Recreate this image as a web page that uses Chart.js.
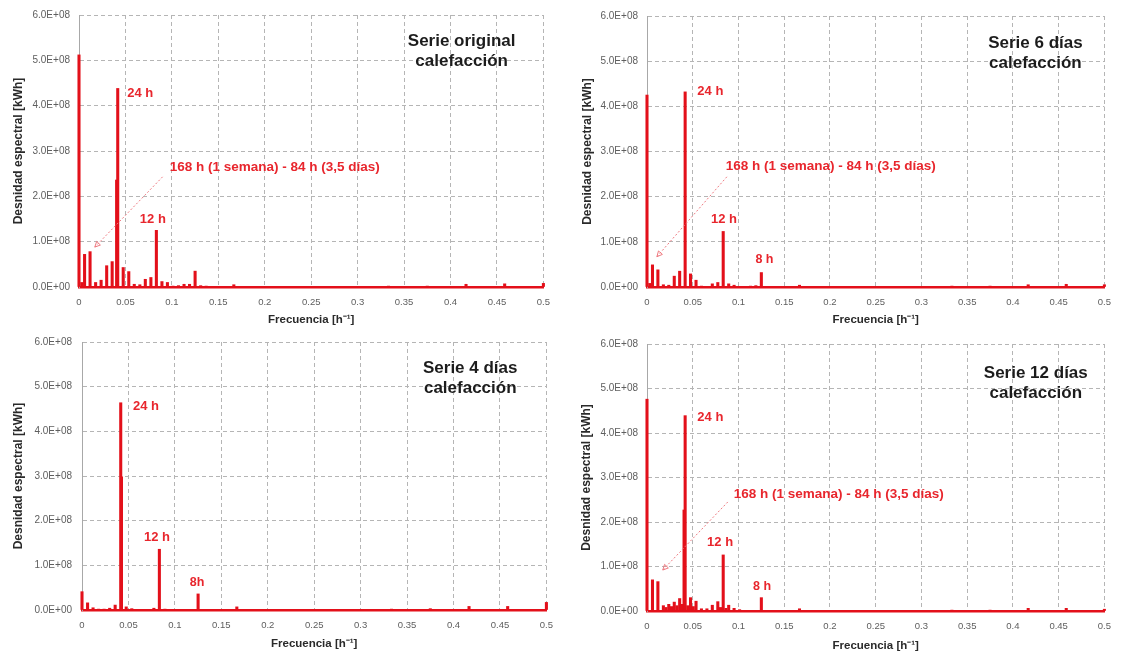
<!DOCTYPE html>
<html><head><meta charset="utf-8">
<script src="https://cdn.jsdelivr.net/npm/chart.js@4.4.1/dist/chart.umd.min.js"></script>
<style>
html,body{margin:0;padding:0;background:#fff;}
#wrap{position:relative;width:1121px;height:654px;overflow:hidden;background:#fff;}
canvas{position:absolute;}
</style></head><body>
<div id="wrap">
<canvas id="c1" width="560" height="327" style="left:0px;top:0px"></canvas>
<canvas id="c2" width="553" height="327" style="left:568px;top:0px"></canvas>
<canvas id="c3" width="560" height="325" style="left:3px;top:326px"></canvas>
<canvas id="c4" width="553" height="325" style="left:568px;top:328px"></canvas>
</div>
<script>
// ---------- data (frequency in 1/h, spectral density in kWh) ----------
const xTickLabels = ['0','0.05','0.1','0.15','0.2','0.25','0.3','0.35','0.4','0.45','0.5'];
const yTickLabels = ['0.0E+00','1.0E+08','2.0E+08','3.0E+08','4.0E+08','5.0E+08','6.0E+08'];
const xAxisTitle = 'Frecuencia [h⁻¹]';
const yAxisTitle = 'Desnidad espectral [kWh]';

// Serie original
const freqOriginal = [0, 0.003, 0.006, 0.0119, 0.0179, 0.0238, 0.0298, 0.0357, 0.0405, 0.0417, 0.0476, 0.0536, 0.0595, 0.0655, 0.0714, 0.0774, 0.0833, 0.0893, 0.0952, 0.1012, 0.1071, 0.1131, 0.119, 0.125, 0.131, 0.1369, 0.1667, 0.3333, 0.375, 0.4167, 0.4583, 0.5];
const densOriginal = [5.12e8, 0.10e8, 0.72e8, 0.78e8, 0.10e8, 0.15e8, 0.47e8, 0.56e8, 2.36e8, 4.38e8, 0.43e8, 0.34e8, 0.06e8, 0.05e8, 0.17e8, 0.21e8, 1.25e8, 0.12e8, 0.10e8, 0.02e8, 0.03e8, 0.06e8, 0.06e8, 0.35e8, 0.03e8, 0.02e8, 0.05e8, 0.02e8, 0.02e8, 0.06e8, 0.07e8, 0.08e8];

// Serie 6 dias
const freq6 = [0, 0.003, 0.006, 0.0119, 0.0179, 0.0238, 0.0298, 0.0357, 0.0417, 0.0476, 0.0536, 0.0595, 0.0714, 0.0774, 0.0833, 0.0893, 0.0952, 0.1131, 0.119, 0.125, 0.1667, 0.3333, 0.375, 0.4167, 0.4583, 0.5];
const dens6 = [4.25e8, 0.08e8, 0.49e8, 0.38e8, 0.05e8, 0.04e8, 0.24e8, 0.35e8, 4.32e8, 0.29e8, 0.15e8, 0.02e8, 0.07e8, 0.10e8, 1.23e8, 0.07e8, 0.04e8, 0.02e8, 0.03e8, 0.32e8, 0.04e8, 0.02e8, 0.02e8, 0.05e8, 0.06e8, 0.05e8];

// Serie 4 dias
const freq4 = [0, 0.006, 0.0119, 0.0179, 0.0238, 0.0298, 0.0357, 0.0417, 0.0425, 0.0476, 0.0536, 0.0774, 0.0833, 0.0893, 0.125, 0.1667, 0.3333, 0.375, 0.4167, 0.4583, 0.5];
const dens4 = [0.41e8, 0.16e8, 0.05e8, 0.02e8, 0.02e8, 0.04e8, 0.11e8, 4.64e8, 2.98e8, 0.07e8, 0.03e8, 0.04e8, 1.36e8, 0.02e8, 0.36e8, 0.07e8, 0.02e8, 0.03e8, 0.08e8, 0.08e8, 0.17e8];

// Serie 12 dias
const freq12 = [0, 0.006, 0.0119, 0.0179, 0.0208, 0.0238, 0.0268, 0.0298, 0.0327, 0.0357, 0.0387, 0.0405, 0.0417, 0.0446, 0.0476, 0.0506, 0.0536, 0.0595, 0.0655, 0.0714, 0.0774, 0.0804, 0.0833, 0.0863, 0.0893, 0.0952, 0.1012, 0.125, 0.1667, 0.3333, 0.375, 0.4167, 0.4583, 0.5];
const dens12 = [4.76e8, 0.70e8, 0.66e8, 0.12e8, 0.08e8, 0.15e8, 0.10e8, 0.20e8, 0.12e8, 0.28e8, 0.15e8, 2.27e8, 4.39e8, 0.12e8, 0.30e8, 0.10e8, 0.22e8, 0.05e8, 0.05e8, 0.13e8, 0.21e8, 0.08e8, 1.26e8, 0.06e8, 0.13e8, 0.06e8, 0.03e8, 0.30e8, 0.05e8, 0.02e8, 0.02e8, 0.06e8, 0.06e8, 0.04e8];

// ---------- annotations (placed in data coordinates) ----------
const weekText = '168 h (1 semana) - 84 h (3,5 días)';
const notesOriginal = {
  titles: ['Serie original', 'calefacción'], titleX: 0.412, titleY: [5.41e8, 4.97e8],
  texts: [{t:'24 h', x:0.052, y:4.26e8, s:13}, {t:'12 h', x:0.0655, y:1.50e8, s:13}, {t:weekText, x:0.0976, y:2.65e8, s:13.5}],
  arrow: {x1:0.090, y1:2.43e8, x2:0.017, y2:0.88e8}
};
const notes6 = {
  titles: ['Serie 6 días', 'calefacción'], titleX: 0.4246, titleY: [5.40e8, 4.96e8],
  texts: [{t:'24 h', x:0.055, y:4.34e8, s:13}, {t:'12 h', x:0.070, y:1.49e8, s:13}, {t:'8 h', x:0.1185, y:0.60e8, s:12.5}, {t:weekText, x:0.086, y:2.68e8, s:13.5}],
  arrow: {x1:0.0873, y1:2.44e8, x2:0.0108, y2:0.67e8}
};
const notes4 = {
  titles: ['Serie 4 días', 'calefacción'], titleX: 0.418, titleY: [5.40e8, 4.96e8],
  texts: [{t:'24 h', x:0.0548, y:4.55e8, s:13}, {t:'12 h', x:0.0667, y:1.63e8, s:13}, {t:'8h', x:0.116, y:0.62e8, s:12.5}],
  arrow: null
};
const notes12 = {
  titles: ['Serie 12 días', 'calefacción'], titleX: 0.425, titleY: [5.35e8, 4.90e8],
  texts: [{t:'24 h', x:0.055, y:4.36e8, s:13}, {t:'12 h', x:0.0657, y:1.53e8, s:13}, {t:'8 h', x:0.116, y:0.54e8, s:12.5}, {t:weekText, x:0.0947, y:2.63e8, s:13.5}],
  arrow: {x1:0.0883, y1:2.45e8, x2:0.0172, y2:0.92e8}
};

// ---------- drawing ----------
const FONT = '"Liberation Sans", Arial, sans-serif';
const RED = '#e3101a';
const TEXTRED = '#e8262d';
Chart.defaults.font.family = FONT;

const notesPlugin = {
  id: 'panelNotes',
  afterDatasetsDraw(chart) {
    const n = chart.config._config.notes;
    if (!n) return;
    const ctx = chart.ctx, xs = chart.scales.x, ys = chart.scales.y;
    ctx.save();
    ctx.fillStyle = '#1c1c1c';
    ctx.font = 'bold 17px ' + FONT;
    ctx.textAlign = 'center'; ctx.textBaseline = 'middle';
    n.titles.forEach((t, i) => ctx.fillText(t, xs.getPixelForValue(n.titleX), ys.getPixelForValue(n.titleY[i])));
    ctx.fillStyle = TEXTRED; ctx.textAlign = 'left';
    n.texts.forEach(o => {
      ctx.font = 'bold ' + o.s + 'px ' + FONT;
      ctx.fillText(o.t, xs.getPixelForValue(o.x), ys.getPixelForValue(o.y));
    });
    if (n.arrow) {
      const a = n.arrow;
      const x1 = xs.getPixelForValue(a.x1), y1 = ys.getPixelForValue(a.y1);
      const x2 = xs.getPixelForValue(a.x2), y2 = ys.getPixelForValue(a.y2);
      ctx.strokeStyle = '#ee7a80'; ctx.lineWidth = 1;
      ctx.setLineDash([2, 2]);
      ctx.beginPath(); ctx.moveTo(x1, y1); ctx.lineTo(x2, y2); ctx.stroke();
      ctx.setLineDash([]);
      const ang = Math.atan2(y2 - y1, x2 - x1), L = 6, w = 0.45;
      ctx.beginPath();
      ctx.moveTo(x2, y2);
      ctx.lineTo(x2 - L * Math.cos(ang - w), y2 - L * Math.sin(ang - w));
      ctx.lineTo(x2 - L * Math.cos(ang + w), y2 - L * Math.sin(ang + w));
      ctx.closePath(); ctx.stroke();
    }
    ctx.restore();
  }
};

function makePanel(id, freqs, dens, notes, lay) {
  const pts = freqs.map((f, i) => ({x: f, y: dens[i]}));
  const cfg = {
    type: 'bar',
    data: { datasets: [{ data: pts, backgroundColor: RED, borderWidth: 0, barThickness: 2.4, clip: false }] },
    options: {
      responsive: false, animation: false,
      layout: { padding: { top: lay.padTop, right: lay.padRight, left: 0, bottom: 0 } },
      plugins: { legend: { display: false }, tooltip: { enabled: false } },
      scales: {
        x: {
          type: 'linear', min: 0, max: 0.5, offset: false,
          grid: { color: '#b5b5b5', lineWidth: 1, drawTicks: false, offset: false },
          border: { display: true, color: RED, width: 2.5, dash: [4, 3] },
          ticks: { stepSize: 0.05, autoSkip: false, maxRotation: 0, padding: 10, color: '#5e5e5e', font: { size: 9.5 },
                   callback: (v, i) => xTickLabels[i] },
          title: { display: true, text: xAxisTitle, color: '#2a2a2a', font: { size: 11.5, weight: 'bold' }, padding: { top: 0, bottom: 0 } },
          afterFit: s => { s.height = lay.xHeight; }
        },
        y: {
          min: 0, max: 6e8,
          grid: { color: '#b5b5b5', lineWidth: 1, drawTicks: false },
          border: { display: true, color: '#a8a8a8', width: 1, dash: [4, 3] },
          ticks: { stepSize: 1e8, autoSkip: false, padding: lay.yPad, color: '#5e5e5e', font: { size: 10 },
                   callback: (v, i) => yTickLabels[i] },
          title: { display: true, text: yAxisTitle, color: '#2a2a2a', font: { size: 12, weight: 'bold' }, padding: { top: lay.yTitlePad, bottom: 0 } },
          afterFit: s => { s.width = lay.yWidth; }
        }
      }
    },
    plugins: [notesPlugin]
  };
  cfg.notes = notes;
  return new Chart(document.getElementById(id), cfg);
}

makePanel('c1', freqOriginal, densOriginal, notesOriginal, {padTop: 15, padRight: 15, yWidth: 79, xHeight: 40, yPad: 9, yTitlePad: 11});
makePanel('c2', freq6, dens6, notes6, {padTop: 16, padRight: 10, yWidth: 79, xHeight: 40, yPad: 9, yTitlePad: 12});
makePanel('c3', freq4, dens4, notes4, {padTop: 15, padRight: 16, yWidth: 79, xHeight: 41, yPad: 10, yTitlePad: 8});
makePanel('c4', freq12, dens12, notes12, {padTop: 16, padRight: 9, yWidth: 79, xHeight: 42, yPad: 9, yTitlePad: 11});
</script>
</body></html>
